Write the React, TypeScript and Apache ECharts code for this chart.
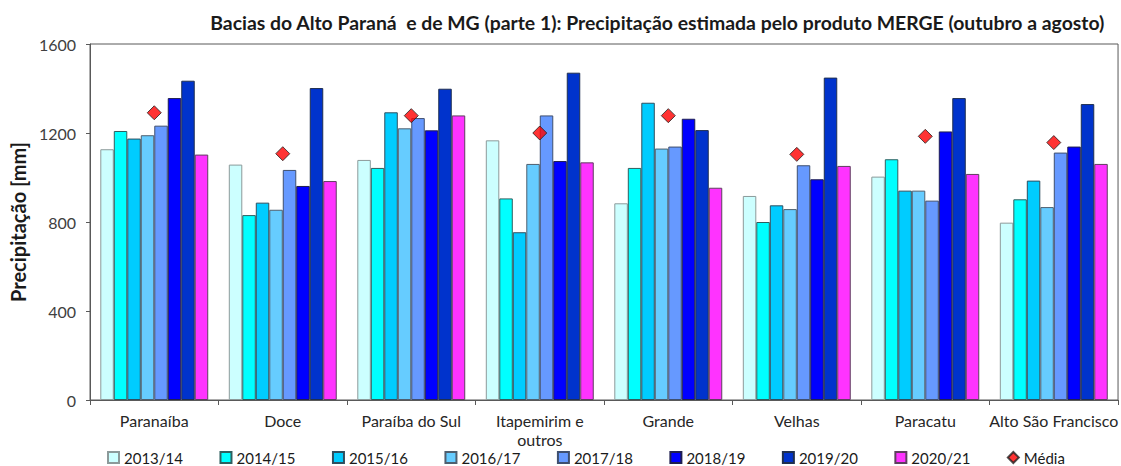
import React, { useEffect, useRef } from "react";
import * as echarts from "echarts";

const categories = [
  "Paranaíba",
  "Doce",
  "Paraíba do Sul",
  "Itapemirim e\noutros",
  "Grande",
  "Velhas",
  "Paracatu",
  "Alto São Francisco",
];

const seasons = ["2013/14", "2014/15", "2015/16", "2016/17", "2017/18", "2018/19", "2019/20", "2020/21"];

const v2013 = [1127, 1058, 1079, 1167, 884, 917, 1004, 797];
const v2014 = [1209, 831, 1043, 906, 1043, 800, 1082, 902];
const v2015 = [1175, 887, 1293, 754, 1336, 875, 941, 986];
const v2016 = [1190, 855, 1221, 1061, 1130, 858, 941, 867];
const v2017 = [1233, 1034, 1267, 1279, 1139, 1055, 896, 1112];
const v2018 = [1357, 962, 1212, 1074, 1264, 992, 1207, 1139];
const v2019 = [1435, 1402, 1399, 1471, 1213, 1449, 1357, 1330];
const v2020 = [1103, 984, 1279, 1068, 954, 1052, 1016, 1061];
const media = [1291, 1107, 1278, 1200, 1278, 1104, 1185, 1157];

const seriesValues = [v2013, v2014, v2015, v2016, v2017, v2018, v2019, v2020];
const barColors = ["#CCFFFF", "#00FFFF", "#00CCFF", "#66CCFF", "#6699FF", "#0000FF", "#0033CC", "#FF33FF"];
const barBorders = ["#8C9A9A", "#2F5F5F", "#2F4F5F", "#4F5F6F", "#3F4F6F", "#1F1F4F", "#1F2F4F", "#5F3F5F"];

const yTicks = { min: 0, max: 1600, interval: 400 };

const FONT = "Lato, 'Open Sans', sans-serif";

export default function App() {
  const ref = useRef<HTMLDivElement>(null);
  useEffect(() => {
    if (!ref.current) return;
    const chart = echarts.init(ref.current, undefined, { renderer: "svg" });
    const bars = seasons.map((name, i) => ({
      name,
      type: "bar",
      data: seriesValues[i],
      barGap: "0%",
      barCategoryGap: "16%",
      itemStyle: { color: barColors[i], borderColor: barBorders[i], borderWidth: 1 },
      emphasis: { disabled: true },
    }));
    chart.setOption({
      animation: false,
      textStyle: { fontFamily: FONT },
      title: {
        text: "Bacias do Alto Paraná  e de MG (parte 1): Precipitação estimada pelo produto MERGE (outubro a agosto)",
        right: 11,
        top: 8,
        textStyle: { fontFamily: FONT, fontSize: 19.4, fontWeight: "bold", color: "#1a1a1a" },
      },
      legend: {
        left: 107,
        top: 450,
        padding: 0,
        itemWidth: 11,
        itemHeight: 11,
        itemGap: 36.5,
        textStyle: { fontFamily: FONT, fontSize: 15, color: "#1a1a1a" },
        data: [...seasons.map((s) => ({ name: s, icon: "rect" })), { name: "Média", icon: "diamond" }],
      },
      grid: { left: 88, top: 44, right: 0, bottom: 66, show: true, borderColor: "#595959", borderWidth: 1, backgroundColor: "transparent" },
      xAxis: {
        type: "category",
        data: categories,
        axisLine: { lineStyle: { color: "#595959", width: 1 } },
        axisTick: { show: true, length: 5, lineStyle: { color: "#595959" } },
        axisLabel: { fontFamily: FONT, fontSize: 16, color: "#262626", margin: 11, lineHeight: 19, interval: 0 },
      },
      yAxis: {
        type: "value",
        ...yTicks,
        name: "Precipitação [mm]",
        nameLocation: "middle",
        nameRotate: 90,
        nameGap: 58,
        nameTextStyle: { fontFamily: FONT, fontSize: 20, fontWeight: "bold", color: "#1a1a1a" },
        axisLine: { show: true, lineStyle: { color: "#595959", width: 1 } },
        axisTick: { show: true, length: 4, lineStyle: { color: "#595959" } },
        splitLine: { show: false },
        axisLabel: { fontFamily: FONT, fontSize: 16, color: "#404040", margin: 14, formatter: (v: number) => String(v) },
      },
      series: [
        ...bars,
        {
          name: "Média",
          type: "scatter",
          data: media,
          symbol: "diamond",
          symbolSize: 14,
          z: 5,
          itemStyle: { color: "#FF0000", borderColor: "#202020", borderWidth: 1 },
          emphasis: { disabled: true },
        },
      ],
    });
    return () => chart.dispose();
  }, []);
  return <div ref={ref} style={{ position: "fixed", left: 0, top: 0, width: 1121, height: 466, background: "#fff" }} />;
}
